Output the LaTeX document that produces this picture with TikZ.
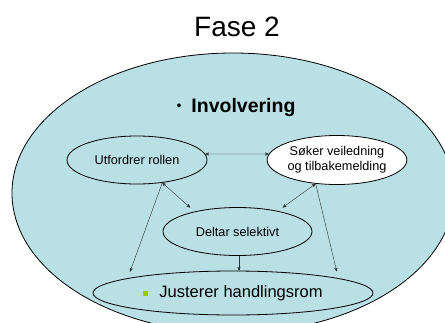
\documentclass[tikz,border=0pt]{standalone}
\usepackage{fontspec}
\setmainfont{Liberation Sans}
\usepackage{tikz}
\usetikzlibrary{positioning}
\usetikzlibrary{arrows}
\usetikzlibrary{shapes,calc}
\definecolor{phasecyan}{RGB}{185,224,228}
\definecolor{bulletgreen}{RGB}{153,204,0}
\definecolor{linegray}{RGB}{50,50,50}

\begin{document}
\begin{tikzpicture}[x=1pt,y=-1pt]
	\useasboundingbox (0,0) rectangle (445,322);
	\clip (0,0) rectangle (445,322);
	\draw[fill=phasecyan, line width=0.8pt] (233,193) ellipse [x radius=221, y radius=140];

	\node (T) at (237,27) {\fontsize{28}{33}\selectfont Fase 2};
	\node (I) at (236,107) {\fontsize{19.5}{23}\selectfont \raisebox{2pt}{\fontsize{14}{14}\selectfont •}\hspace{10pt}\textbf{Involvering}};

	\begin{scope}[every node/.style={ellipse, draw, fill=phasecyan, line width=0.8pt, inner sep=0pt,
	              align=center, font=\fontsize{12.7}{15}\selectfont}]
	    \node (U) at (137,160) [minimum width=140pt, minimum height=48pt] {Utfordrer rollen};
	    \node (S) [fill=white] at (337,160) [minimum width=132pt, minimum height=49pt] {Søker veiledning\\og tilbakemelding};
	    \node (D) at (237.5,231.5) [minimum width=149pt, minimum height=48pt] {Deltar selektivt};
	    \node (J) at (233,293) [minimum width=280pt, minimum height=44pt, font=\fontsize{16.5}{20}\selectfont]
	        {\textcolor{bulletgreen}{\rule[1pt]{5pt}{5pt}}\hspace{11pt}Justerer handlingsrom};
	\end{scope}

	\begin{scope}[>=stealth',
	              every edge/.style={draw=linegray, thin}]
    	\path [<->] (U.5) edge (S.175);
    	\path [<->] (U.-42) edge[shorten >=6pt] (D.155);
    	\path [<->] (S.-132) edge[shorten >=6pt] (D.27);
    	\path [->] (U.-42) edge[shorten >=7pt] (J.172);
    	\path [->] (S.-132) edge[shorten >=7pt] (J.8);
    	\path [->] ([xshift=1.5pt]D.south) edge ([xshift=1.5pt]D.south |- J.north);
	\end{scope}
\end{tikzpicture}
\end{document}
